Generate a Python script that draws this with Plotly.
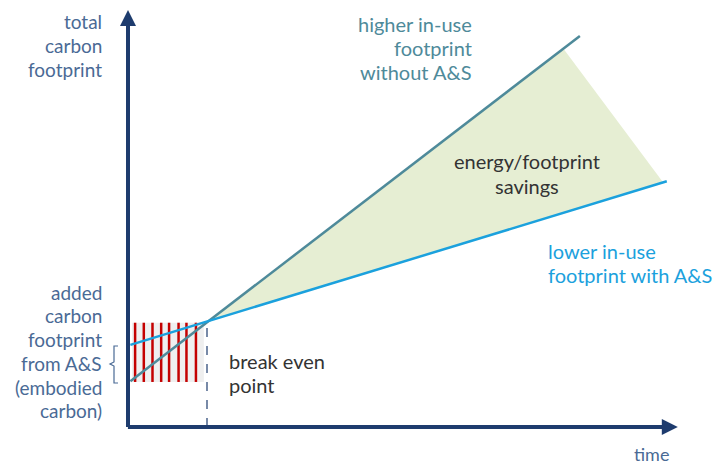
import plotly.graph_objects as go

# ---- data (time units, footprint units) ----
higher_t = [0.03, 5.72]
higher_y = [0.58, 4.95]
lower_t = [0.03, 6.82]
lower_y = [1.04, 3.11]
break_even = (1.0, 1.33)
savings_t = [1.0, 5.51, 6.77, 1.0]
savings_y = [1.33, 4.79, 3.10, 1.33]
embodied_t = [0.05, 0.96]
embodied_y = [0.57, 1.32]
stripe_t = [0.09, 0.20, 0.31, 0.42, 0.52, 0.64, 0.74, 0.86]
x_axis_end = 6.96
y_axis_end = 5.28

NAVY = "#1e3c6e"
LABEL = "#4a6a95"
TEAL = "#4e8a9a"
BLUE = "#1ba1dd"
GREEN = "#e6eed3"
DARK = "#333333"
FONT = "Lato"

# pixel -> data helpers (plot area fills the whole 717x466 figure)
S = 79.0
def dx(px):
    return (px - 128) / S
def dy(py):
    return (427 - py) / S

fig = go.Figure()

# savings area
fig.add_trace(go.Scatter(x=savings_t, y=savings_y, fill="toself", fillcolor=GREEN,
                         line=dict(width=0), mode="lines", hoverinfo="skip"))

# embodied carbon box (below the lines)
fig.add_shape(type="rect", x0=embodied_t[0], x1=embodied_t[1], y0=embodied_y[0], y1=embodied_y[1],
              fillcolor="#efefef", line=dict(width=0), layer="below")
for s in stripe_t:
    fig.add_shape(type="line", x0=s, x1=s, y0=embodied_y[0], y1=embodied_y[1],
                  line=dict(color="#c40000", width=2.5), layer="below")

# lines
fig.add_trace(go.Scatter(x=higher_t, y=higher_y, mode="lines", line=dict(color=TEAL, width=2.5)))
fig.add_trace(go.Scatter(x=lower_t, y=lower_y, mode="lines", line=dict(color=BLUE, width=2.5)))

# break even dashed line
fig.add_trace(go.Scatter(x=[break_even[0], break_even[0]], y=[0, break_even[1]], mode="lines",
                         line=dict(color=NAVY, width=1.2, dash="dash")))

# axes with arrows
fig.add_annotation(x=0, y=y_axis_end, ax=0, ay=-0.02, xref="x", yref="y", axref="x", ayref="y",
                   showarrow=True, arrowhead=2, arrowsize=0.8, arrowwidth=4, arrowcolor=NAVY, text="")
fig.add_annotation(x=x_axis_end, y=0, ax=-0.02, ay=0, xref="x", yref="y", axref="x", ayref="y",
                   showarrow=True, arrowhead=2, arrowsize=0.8, arrowwidth=4, arrowcolor=NAVY, text="")

# brace
fig.add_shape(type="path",
              path=f"M {dx(118)},{dy(346)} L {dx(114)},{dy(346)} L {dx(114)},{dy(362)} "
                   f"L {dx(110)},{dy(364)} L {dx(114)},{dy(366)} L {dx(114)},{dy(383)} "
                   f"L {dx(118)},{dy(383)}",
              line=dict(color=LABEL, width=1.2))

def lines(px, pys, texts, color, xanchor, size):
    for py, t in zip(pys, texts):
        fig.add_annotation(x=dx(px), y=dy(py), xref="x", yref="y", text=t, showarrow=False,
                           font=dict(family=FONT, size=size, color=color),
                           xanchor=xanchor, yanchor="middle")

lines(104, [21, 45, 69], ["total", "carbon", "footprint"], LABEL, "right", 19)
lines(104, [292, 315, 339, 363, 387, 410],
      ["added", "carbon", "footprint", "from A&amp;S", "(embodied", "carbon)"], LABEL, "right", 19)
lines(227, [361, 385], ["break even", "point"], DARK, "left", 20)
lines(527, [161, 186], ["energy/footprint", "savings"], DARK, "center", 20)
lines(474, [24, 48, 72], ["higher in-use", "footprint", "without A&amp;S"], TEAL, "right", 20)
lines(546, [251, 275], ["lower in-use", "footprint with A&amp;S"], BLUE, "left", 20)
lines(651, [454], ["time"], LABEL, "center", 18)

fig.update_layout(
    width=717, height=466, margin=dict(l=0, r=0, t=0, b=0),
    paper_bgcolor="white", plot_bgcolor="white", showlegend=False,
    xaxis=dict(range=[dx(0), dx(717)], visible=False, fixedrange=True),
    yaxis=dict(range=[dy(466), dy(0)], visible=False, fixedrange=True),
)

fig.write_html("out.html", config={"displayModeBar": False},
               post_script="document.body.style.margin='0';document.body.style.overflow='hidden';")
